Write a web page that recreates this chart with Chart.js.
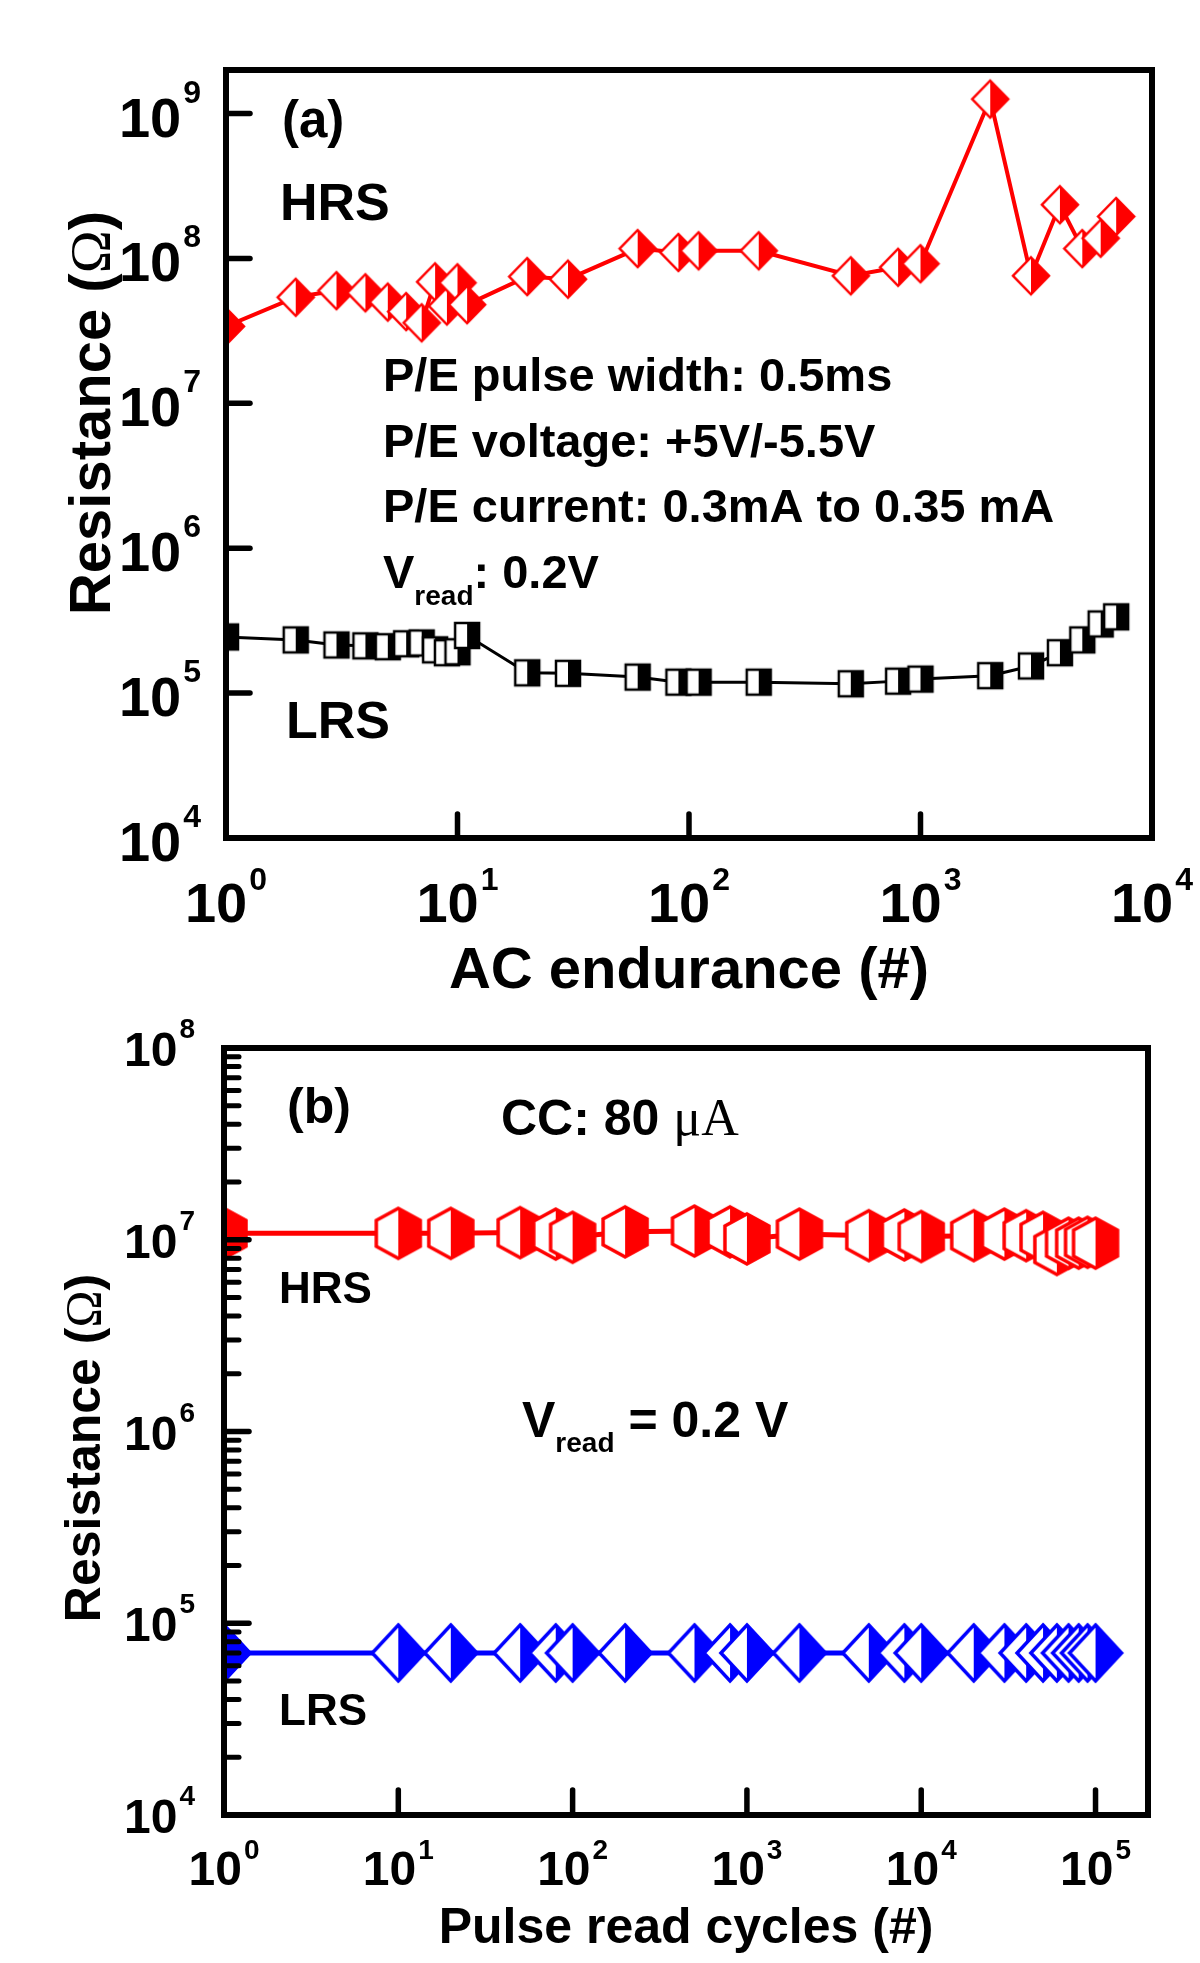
<!DOCTYPE html>
<html>
<head>
<meta charset="utf-8">
<script src="https://cdn.jsdelivr.net/npm/chart.js@4.4.1/dist/chart.umd.min.js"></script>
<style>
  html, body { margin: 0; padding: 0; background: #fff; }
  #wrap { position: relative; width: 1200px; height: 1963px; }
  canvas { position: absolute; left: 0; }
  #chartA { top: 0; }
  #chartB { top: 1005px; }
</style>
</head>
<body>
<div id="wrap">
  <canvas id="chartA" width="1200" height="1005"></canvas>
  <canvas id="chartB" width="1200" height="958"></canvas>
</div>
<script>
// =======================================
// (a) AC endurance
// =======================================
const cyclesA = [1, 2, 3, 4, 5, 6, 7, 8, 9, 10, 11, 20, 30, 60, 90, 110, 200, 500, 800, 1000, 2000, 3000, 4000, 5000, 6000, 7000];
const hrsA = [3.4e7, 5.4e7, 6.0e7, 5.8e7, 5.0e7, 4.3e7, 3.6e7, 6.9e7, 4.7e7, 6.8e7, 4.8e7, 7.5e7, 7.2e7,
  1.17e8, 1.1e8, 1.13e8, 1.13e8, 7.6e7, 8.7e7, 9.2e7, 1.26e9, 7.6e7, 2.35e8, 1.17e8, 1.38e8, 1.95e8];
const lrsA = [2.44e5, 2.33e5, 2.15e5, 2.12e5, 2.09e5, 2.19e5, 2.22e5, 1.99e5, 1.9e5, 1.93e5, 2.5e5, 1.38e5, 1.37e5,
  1.29e5, 1.19e5, 1.19e5, 1.19e5, 1.16e5, 1.21e5, 1.25e5, 1.32e5, 1.54e5, 1.9e5, 2.33e5, 3.0e5, 3.36e5];
const xTicksA = [1, 10, 100, 1000, 10000];
const xTickExpA = ["0", "1", "2", "3", "4"];
const yTicksA = [1e4, 1e5, 1e6, 1e7, 1e8, 1e9];
const yTickExpA = ["4", "5", "6", "7", "8", "9"];

// =======================================
// (b) Pulse read cycles
// =======================================
const cyclesB = [1, 10, 20, 50, 80, 100, 200, 500, 800, 1000, 2000, 5000, 8000, 10000,
  20000, 30000, 40000, 50000, 60000, 70000, 80000, 90000, 100000];
const hrsB = [1.08e7, 1.08e7, 1.08e7, 1.09e7, 1.07e7, 1.03e7, 1.10e7, 1.11e7, 1.10e7, 1.01e7, 1.07e7, 1.05e7,
  1.06e7, 1.04e7, 1.05e7, 1.07e7, 1.05e7, 1.03e7, 8.9e6, 9.6e6, 9.6e6, 9.7e6, 9.6e6];
const lrsB = [7.0e4, 7.0e4, 7.0e4, 7.0e4, 7.0e4, 7.0e4, 7.0e4, 7.0e4, 7.0e4, 7.0e4, 7.0e4, 7.0e4,
  7.0e4, 7.0e4, 7.0e4, 7.0e4, 7.0e4, 7.0e4, 7.0e4, 7.0e4, 7.0e4, 7.0e4, 7.0e4];
const xTicksB = [1, 10, 100, 1000, 10000, 100000];
const xTickExpB = ["0", "1", "2", "3", "4", "5"];
const yTicksB = [1e4, 1e5, 1e6, 1e7, 1e8];
const yTickExpB = ["4", "5", "6", "7", "8"];
const minorStepsB = [2, 3, 4, 5, 6, 7, 8, 9];

const SANS = '"Liberation Sans", Arial, Helvetica, sans-serif';
const SERIF = '"Liberation Serif", "Times New Roman", serif';
const bold = px => `bold ${px}px ${SANS}`;

// -------------------------------
// half-filled marker images
// -------------------------------
function halfMarker(pts, color, lw) {
  const xs = pts.map(p => p[0]), ys = pts.map(p => p[1]);
  const pad = Math.ceil(lw) + 1;
  const c = document.createElement("canvas");
  c.width = Math.ceil(Math.max(...xs) - Math.min(...xs)) + pad * 2;
  c.height = Math.ceil(Math.max(...ys) - Math.min(...ys)) + pad * 2;
  const g = c.getContext("2d");
  const cx = c.width / 2, cy = c.height / 2;
  const poly = () => {
    g.beginPath();
    pts.forEach(([px, py], i) => i ? g.lineTo(cx + px, cy + py) : g.moveTo(cx + px, cy + py));
    g.closePath();
  };
  poly(); g.fillStyle = "#fff"; g.fill();
  g.save(); poly(); g.clip();
  g.fillStyle = color; g.fillRect(cx, 0, c.width, c.height);
  g.restore();
  poly(); g.strokeStyle = color; g.lineWidth = lw; g.lineJoin = "miter"; g.stroke();
  return c;
}

const diamondRed = halfMarker([[0, -18.5], [18, 0], [0, 18.5], [-18, 0]], "#ff0000", 2.5);
const squareBlack = halfMarker([[-12, -12.5], [12, -12.5], [12, 12.5], [-12, 12.5]], "#000000", 2.5);
const hexRed = halfMarker([[0, -25], [22, -13], [22, 13], [0, 25], [-22, 13], [-22, -13]], "#ff0000", 3.5);
const diamondBlue = halfMarker([[0, -28], [26, 0], [0, 28], [-26, 0]], "#0000ff", 3.5);

// -------------------------------
// text helpers
// -------------------------------
function drawRuns(ctx, x, y, runs, align) {
  let total = 0;
  runs.forEach(r => { ctx.font = r.f; r.w = ctx.measureText(r.t).width; total += r.w + (r.gap || 0); });
  let cx = align === "center" ? x - total / 2 : align === "right" ? x - total : x;
  ctx.textBaseline = "alphabetic";
  ctx.textAlign = "left";
  runs.forEach(r => {
    cx += r.gap || 0;
    ctx.font = r.f;
    ctx.fillText(r.t, cx, y + (r.dy || 0));
    cx += r.w;
  });
}

function line(ctx, x1, y1, x2, y2) {
  ctx.beginPath(); ctx.moveTo(x1, y1); ctx.lineTo(x2, y2); ctx.stroke();
}

// -------------------------------
// frame, inside ticks, labels
// -------------------------------
function decorate(chart, st) {
  const { ctx, chartArea: a } = chart;
  const xs = chart.scales.x, ys = chart.scales.y;
  const off = st.top;
  ctx.save();
  ctx.fillStyle = "#000";
  ctx.strokeStyle = "#000";

  ctx.lineCap = "round";
  ys.ticks.forEach(t => {
    const py = ys.getPixelForValue(t.value);
    ctx.lineWidth = t.major ? st.tickW : st.minorW;
    line(ctx, a.left, py, a.left + (t.major ? st.tickLen : st.minorLen), py);
  });
  xs.ticks.forEach(t => {
    const px = xs.getPixelForValue(t.value);
    ctx.lineWidth = st.tickW;
    line(ctx, px, a.bottom, px, a.bottom - st.tickLen);
  });

  ctx.lineCap = "butt";
  ctx.lineJoin = "miter";
  ctx.lineWidth = st.frameW;
  ctx.strokeRect(a.left, a.top, a.right - a.left, a.bottom - a.top);

  // tick labels
  st.yTicks.forEach((v, i) => {
    const py = ys.getPixelForValue(v);
    drawRuns(ctx, st.yLabelRight, py, [
      { t: "10", f: bold(st.tickFont), dy: st.yDigitDy },
      { t: st.yExp[i], f: bold(st.expFont), dy: st.yExpDy, gap: 2 }
    ], "right");
  });
  st.xTicks.forEach((v, i) => {
    const px = xs.getPixelForValue(v);
    drawRuns(ctx, px, 0, [
      { t: "10", f: bold(st.tickFont), dy: st.xDigitBase - off },
      { t: st.xExp[i], f: bold(st.expFont), dy: st.xExpBase - off, gap: 2 }
    ], "center");
  });

  // axis titles
  drawRuns(ctx, (a.left + a.right) / 2, st.xTitleBase - off, [{ t: st.xTitle, f: bold(st.titleFont) }], "center");
  ctx.save();
  ctx.translate(st.yTitleBase, st.yTitleMid - off);
  ctx.rotate(-Math.PI / 2);
  drawRuns(ctx, 0, 0, [
    { t: "Resistance (", f: bold(st.titleFont) },
    { t: "\u03A9", f: `${st.titleFont}px ${SERIF}` },
    { t: ")", f: bold(st.titleFont) }
  ], "center");
  ctx.restore();

  // annotations
  st.notes.forEach(n => drawRuns(ctx, n.x, n.y - off, n.runs, "left"));
  ctx.restore();
}

function lineSet(label, xv, yv, color, width, marker) {
  return {
    label,
    data: xv.map((x, i) => ({ x, y: yv[i] })),
    borderColor: color,
    borderWidth: width,
    pointStyle: marker,
    pointRadius: 18,
    tension: 0,
    fill: false,
    clip: 0
  };
}

function makeChart(id, datasets, st, xRange, yRange, yMinor) {
  return new Chart(document.getElementById(id), {
    type: "line",
    data: { datasets },
    options: {
      responsive: false,
      animation: false,
      events: [],
      layout: { padding: { top: st.areaTop - st.top, right: 1200 - st.areaRight, left: 0, bottom: 0 } },
      plugins: { legend: { display: false }, tooltip: { enabled: false } },
      scales: {
        x: {
          type: "logarithmic",
          min: xRange[0], max: xRange[1],
          grid: { display: false }, border: { display: false }, ticks: { display: false },
          afterBuildTicks: s => { s.ticks = st.xTicks.map(v => ({ value: v, major: true })); },
          afterFit: s => { s.height = st.canvasH - (st.areaBottom - st.top); }
        },
        y: {
          type: "logarithmic",
          min: yRange[0], max: yRange[1],
          grid: { display: false }, border: { display: false }, ticks: { display: false },
          afterBuildTicks: s => {
            const t = st.yTicks.map(v => ({ value: v, major: true }));
            if (yMinor) {
              st.yTicks.slice(0, -1).forEach(v => yMinor.forEach(m => t.push({ value: v * m, major: false })));
            }
            s.ticks = t;
          },
          afterFit: s => { s.width = st.areaLeft; }
        }
      }
    },
    plugins: [{ id: "decor_" + id, afterDraw: c => decorate(c, st) }]
  });
}

// -------------------------------
// panel (a)
// -------------------------------
const styleA = {
  top: 0, canvasH: 1005,
  areaLeft: 226, areaRight: 1152, areaTop: 70, areaBottom: 838,
  frameW: 6, tickW: 5.5, minorW: 5, tickLen: 24, minorLen: 14,
  tickFont: 56, expFont: 32,
  xTicks: xTicksA, xExp: xTickExpA, yTicks: yTicksA, yExp: yTickExpA,
  yLabelRight: 201, yDigitDy: 23, yExpDy: -11,
  xDigitBase: 922, xExpBase: 890,
  titleFont: 58, xTitle: "AC endurance (#)", xTitleBase: 988,
  yTitleBase: 110, yTitleMid: 413,
  notes: [
    { x: 282, y: 137, runs: [{ t: "(a)", f: bold(51) }] },
    { x: 280, y: 220, runs: [{ t: "HRS", f: bold(52) }] },
    { x: 286, y: 738, runs: [{ t: "LRS", f: bold(52) }] },
    { x: 383, y: 391, runs: [{ t: "P/E pulse width: 0.5ms", f: bold(47) }] },
    { x: 383, y: 457, runs: [{ t: "P/E voltage: +5V/-5.5V", f: bold(47) }] },
    { x: 383, y: 522, runs: [{ t: "P/E current: 0.3mA to 0.35 mA", f: bold(47) }] },
    { x: 383, y: 588, runs: [{ t: "V", f: bold(47) }, { t: "read", f: bold(28), dy: 17 }, { t: ": 0.2V", f: bold(47) }] }
  ]
};

makeChart("chartA", [
  lineSet("HRS", cyclesA, hrsA, "#ff0000", 4, diamondRed),
  lineSet("LRS", cyclesA, lrsA, "#000000", 3, squareBlack)
], styleA, [1, 1e4], [1e4, 2e9], null);

// -------------------------------
// panel (b)
// -------------------------------
const styleB = {
  top: 1005, canvasH: 958,
  areaLeft: 224, areaRight: 1148, areaTop: 1048, areaBottom: 1815,
  frameW: 6, tickW: 5.5, minorW: 5, tickLen: 25, minorLen: 15,
  tickFont: 48, expFont: 28,
  xTicks: xTicksB, xExp: xTickExpB, yTicks: yTicksB, yExp: yTickExpB,
  yLabelRight: 195, yDigitDy: 18, yExpDy: -10,
  xDigitBase: 1885, xExpBase: 1859,
  titleFont: 50, xTitle: "Pulse read cycles (#)", xTitleBase: 1943,
  yTitleBase: 100, yTitleMid: 1448,
  notes: [
    { x: 287, y: 1123, runs: [{ t: "(b)", f: bold(50) }] },
    { x: 501, y: 1135, runs: [{ t: "CC: 80 ", f: bold(50) }, { t: "\u03BCA", f: `52px ${SERIF}` }] },
    { x: 279, y: 1303, runs: [{ t: "HRS", f: bold(44) }] },
    { x: 279, y: 1725, runs: [{ t: "LRS", f: bold(44) }] },
    { x: 522, y: 1437, runs: [{ t: "V", f: bold(50) }, { t: "read", f: bold(28), dy: 15 }, { t: " = 0.2 V", f: bold(50) }] }
  ]
};

makeChart("chartB", [
  lineSet("HRS", cyclesB, hrsB, "#ff0000", 5, hexRed),
  lineSet("LRS", cyclesB, lrsB, "#0000ff", 5, diamondBlue)
], styleB, [1, 2e5], [1e4, 1e8], minorStepsB);
</script>
</body>
</html>
